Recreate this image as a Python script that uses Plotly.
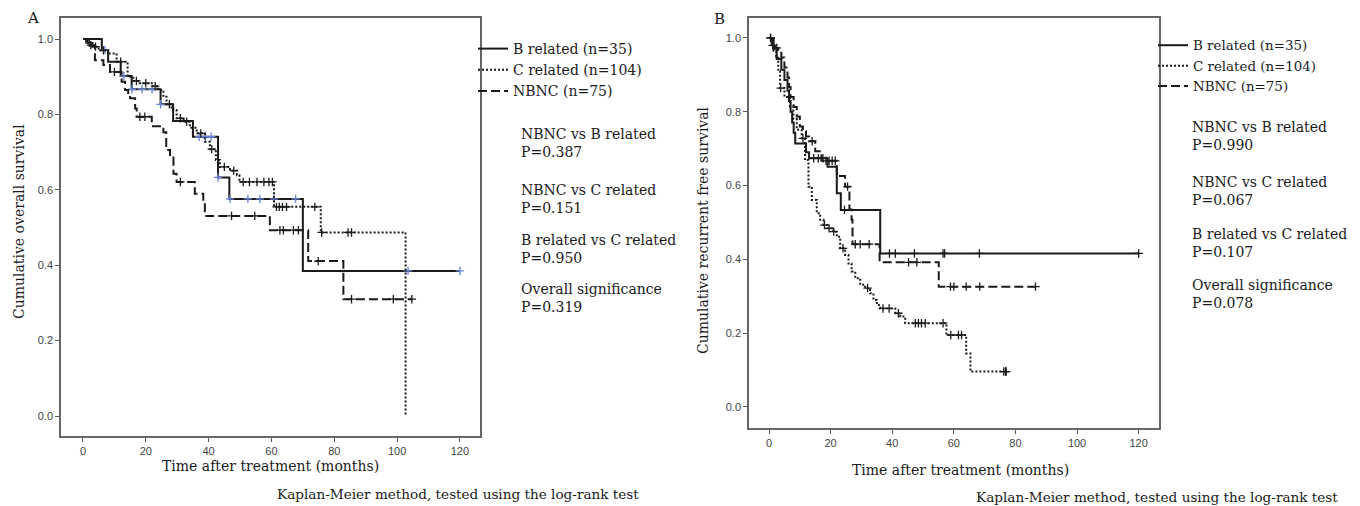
import plotly.graph_objects as go

# The page body has an 8px margin, so the figure is drawn 8px in from the corner.
OFF = 8
FW, FH = 1360 - OFF, 506 - OFF

# ---------------- Panel A : overall survival ----------------
A_B_t = [0, 6, 8, 12, 15.5, 24.7, 28.7, 35, 43, 46.6, 70]
A_B_s = [1.0, 0.971, 0.940, 0.902, 0.867, 0.827, 0.783, 0.741, 0.633, 0.576, 0.385]
A_B_end = 120
A_B_cens = [7, 13, 15.6, 18.8, 22, 24.7, 37, 39, 40.8, 43, 46.8, 52.5, 56.3, 60.8, 67.7, 103.5, 120]

A_C_t = [0, 1, 3, 5, 8, 10.7, 14.2, 16, 18, 21.9, 24, 25.6, 26.6, 28.2, 29.8, 32, 34, 36.2,
         38.8, 40.4, 42.3, 43.6, 46.8, 49, 49.8, 60.8, 75.7, 102.7]
A_C_s = [1.0, 0.99, 0.98, 0.97, 0.962, 0.94, 0.90, 0.889, 0.883, 0.875, 0.865, 0.847, 0.827, 0.812,
         0.79, 0.781, 0.765, 0.75, 0.728, 0.708, 0.679, 0.661, 0.651, 0.639, 0.621, 0.555, 0.487, 0.0]
A_C_end = 102.7
A_C_cens = [2, 4, 6.5, 12, 17, 20, 23, 27.5, 31, 33, 37.5, 41, 45, 48, 51, 53, 55.4, 57.6, 59.2,
            60.3, 61.6, 62.5, 63.5, 64.8, 73.8, 76, 84.4, 85.5]

A_N_t = [0, 1.5, 3.8, 6.5, 8.6, 12.3, 13.4, 14.4, 15, 16.6, 17.1, 21.9, 25.6, 26.5, 27.7, 28.8,
         29.8, 35.6, 38.3, 38.8, 59.5, 71.7, 82.9]
A_N_s = [1.0, 0.984, 0.944, 0.931, 0.913, 0.887, 0.865, 0.851, 0.843, 0.816, 0.794, 0.769, 0.753,
         0.706, 0.686, 0.643, 0.621, 0.59, 0.565, 0.531, 0.493, 0.411, 0.31]
A_N_end = 105
A_N_cens = [2.5, 10, 18.1, 19.7, 31, 47.3, 54.7, 62.7, 63.8, 67, 68.6, 74.9, 85.5, 98.8, 104.7]

A_pvals = [("NBNC vs B related", "P=0.387"), ("NBNC vs C related", "P=0.151"),
           ("B related vs C related", "P=0.950"), ("Overall significance", "P=0.319")]

# ---------------- Panel B : recurrence free survival ----------------
B_B_t = [0, 1.5, 2.5, 4, 5, 6, 6.5, 7, 7.5, 8, 8.5, 12, 13, 19, 22, 23.3, 36.1]
B_B_s = [1.0, 0.971, 0.943, 0.914, 0.886, 0.857, 0.829, 0.800, 0.771, 0.743, 0.714, 0.69, 0.674,
         0.651, 0.579, 0.534, 0.416]
B_B_end = 120
B_B_cens = [0.5, 14.5, 16, 17.5, 24.5, 39.1, 41.0, 47.2, 56.5, 57, 68.3, 120]

B_C_t = [0, 0.8, 1.5, 2.3, 3, 3.6, 5, 6.8, 7.9, 9, 10.6, 11.7, 12.8, 13.9, 15.5, 16.6, 17.7, 18.9,
         20.9, 22, 23.1, 24.7, 25.8, 26.8, 28, 29.6, 31.2, 32.8, 33.9, 35, 36.1, 41, 42.6, 44.2,
         57.6, 64, 65.4]
B_C_s = [1.0, 0.98, 0.965, 0.95, 0.91, 0.864, 0.84, 0.814, 0.78, 0.751, 0.728, 0.669, 0.597, 0.561,
         0.525, 0.507, 0.493, 0.484, 0.475, 0.461, 0.43, 0.412, 0.389, 0.367, 0.349, 0.331, 0.322,
         0.308, 0.29, 0.276, 0.267, 0.254, 0.245, 0.227, 0.195, 0.145, 0.096]
B_C_end = 77
B_C_cens = [1.2, 3.8, 11, 18, 19.5, 21, 24, 32, 37, 39, 42, 47.5, 48.5, 49.5, 50.7, 56.5, 59,
            61.5, 62.5, 76.2, 76.8, 77]

B_N_t = [0, 1, 2, 3, 4, 5, 6, 6.5, 7, 8, 9, 10, 11, 12, 13, 15, 17, 22, 24.7, 26.1, 26.8, 27.1,
         35.9, 55.1]
B_N_s = [1.0, 0.987, 0.973, 0.96, 0.947, 0.92, 0.893, 0.867, 0.84, 0.813, 0.787, 0.76, 0.747,
         0.733, 0.72, 0.693, 0.667, 0.626, 0.597, 0.535, 0.507, 0.441, 0.392, 0.326]
B_N_end = 86.5
B_N_cens = [0.5, 2.5, 14, 18.5, 19.5, 20.5, 21.5, 25.5, 28, 29.6, 32.5, 45.3, 48, 58.9, 60, 64,
            68.4, 86.5]

B_pvals = [("NBNC vs B related", "P=0.990"), ("NBNC vs C related", "P=0.067"),
           ("B related vs C related", "P=0.107"), ("Overall significance", "P=0.078")]

names = ["B related (n=35)", "C related (n=104)", "NBNC (n=75)"]

SERIF = "DejaVu Serif"
SANS = "Liberation Sans, Arial"
INK = "#1a1a1a"
BLUE = "#6a82d8"


def surv_at(ts, ss, t):
    v = ss[0]
    for ti, si in zip(ts, ss):
        if ti <= t:
            v = si
    return v


fig = go.Figure()

styles = ["solid", "2px,2px", "9px,4px"]


def add_panel(series, xa, ya, legend, cens_colors):
    for (ts, ss, end, cens), name, dash, cc in zip(series, names, styles, cens_colors):
        fig.add_trace(go.Scatter(
            x=ts + [end], y=ss + [ss[-1]], mode="lines", line_shape="hv",
            line=dict(color=INK, width=2, dash=dash),
            name=name, legend=legend, xaxis=xa, yaxis=ya, hoverinfo="skip"))
        fig.add_trace(go.Scatter(
            x=cens, y=[surv_at(ts, ss, c) for c in cens], mode="markers",
            marker=dict(symbol="cross-thin", size=6, line=dict(color=cc, width=1.3)),
            showlegend=False, xaxis=xa, yaxis=ya, hoverinfo="skip"))


add_panel([(A_B_t, A_B_s, A_B_end, A_B_cens), (A_C_t, A_C_s, A_C_end, A_C_cens),
           (A_N_t, A_N_s, A_N_end, A_N_cens)], "x", "y", "legend", [BLUE, INK, INK])
add_panel([(B_B_t, B_B_s, B_B_end, B_B_cens), (B_C_t, B_C_s, B_C_end, B_C_cens),
           (B_N_t, B_N_s, B_N_end, B_N_cens)], "x2", "y2", "legend2", [INK, INK, INK])


def px(x):
    return (x - OFF) / FW


def py(y):
    return 1 - (y - OFF) / FH


axis_common = dict(showline=True, mirror=True, linecolor="#666", linewidth=1.5,
                   ticks="outside", ticklen=4, tickwidth=1.2, tickcolor="#555",
                   showgrid=False, zeroline=False,
                   tickfont=dict(family=SANS, size=11, color="#444"))
xt = [0, 20, 40, 60, 80, 100, 120]
yt = [0, 0.2, 0.4, 0.6, 0.8, 1.0]

fig.update_layout(
    width=FW, height=FH, autosize=False,
    margin=dict(l=0, r=0, t=0, b=0),
    paper_bgcolor="white", plot_bgcolor="white",
    xaxis=dict(domain=[px(61), px(480)], range=[-7, 126.4], tickvals=xt, anchor="y", **axis_common),
    yaxis=dict(domain=[py(436), py(18)], range=[-0.053, 1.056], tickvals=yt, tickformat=".1f",
               anchor="x", **axis_common),
    xaxis2=dict(domain=[px(749), px(1159)], range=[-6.5, 126.6], tickvals=xt, anchor="y2",
                **axis_common),
    yaxis2=dict(domain=[py(428), py(18)], range=[-0.057, 1.054], tickvals=yt, tickformat=".1f",
                anchor="x2", **axis_common),
    legend=dict(x=px(473), y=py(33), xanchor="left", yanchor="top",
                font=dict(family=SERIF, size=14, color=INK), bgcolor="rgba(0,0,0,0)",
                itemwidth=30, tracegroupgap=0),
    legend2=dict(x=px(1153), y=py(30), xanchor="left", yanchor="top",
                 font=dict(family=SERIF, size=13.4, color=INK), bgcolor="rgba(0,0,0,0)",
                 itemwidth=30, tracegroupgap=0),
    showlegend=True,
)

ann = []


def text(x, y, s, size=14, angle=0, xanchor="left"):
    ann.append(dict(x=px(x), y=py(y), xref="paper", yref="paper", text=s, showarrow=False,
                    xanchor=xanchor, yanchor="middle", textangle=angle, align="left",
                    font=dict(family=SERIF, size=size, color=INK)))


text(33, 18, "A", size=15, xanchor="center")
text(719, 19, "B", size=15, xanchor="center")
text(19, 222, "Cumulative overall survival", angle=-90, xanchor="center")
text(703, 230, "Cumulative recurrent free survival", angle=-90, xanchor="center")
text(270, 466, "Time after treatment (months)", xanchor="center")
text(960, 470, "Time after treatment (months)", xanchor="center")
text(458, 494, "Kaplan-Meier method, tested using the log-rank test", size=13.6, xanchor="center")
text(1157, 497, "Kaplan-Meier method, tested using the log-rank test", size=13.6, xanchor="center")

for (a, b), yc in zip(A_pvals, [143, 198.5, 248.5, 297.5]):
    text(519, yc, a + "<br>" + b)
for (a, b), yc in zip(B_pvals, [136, 191.5, 242.5, 294]):
    text(1190, yc, a + "<br>" + b)

fig.update_layout(annotations=ann)
fig.write_html("out.html")
